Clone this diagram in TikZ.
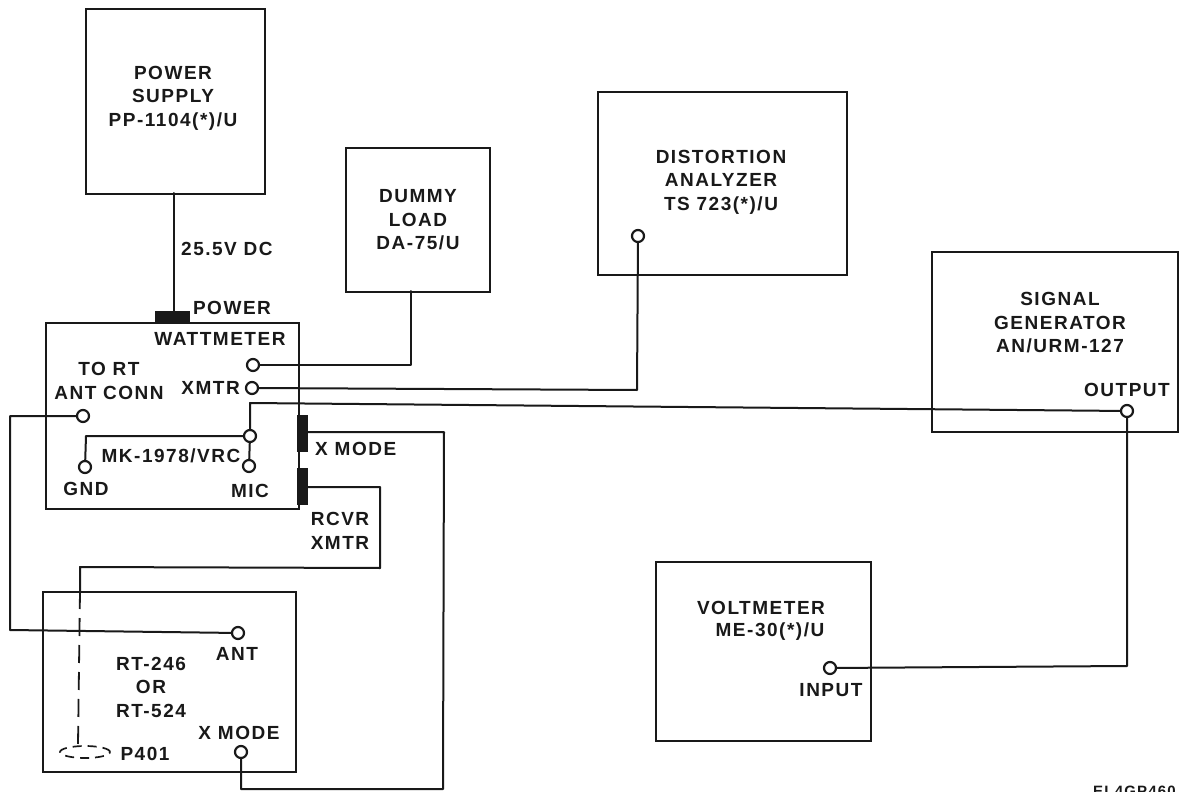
\documentclass[tikz,border=0pt]{standalone}
\usepackage{fontspec}
\usetikzlibrary{shapes.geometric}
\setmainfont[LetterSpace=8]{Liberation Sans}
\tikzset{
  x=1pt,y=-1pt,
  wire/.style={line width=2pt,line join=round,line cap=round,black!90},
  unit/.style={draw=black!90,line width=2.2pt,rectangle,inner sep=0pt,anchor=north west},
  term/.style={draw=black!90,line width=2.2pt,circle,inner sep=0pt,minimum size=12pt,fill=white},
  plug/.style={fill=black!90,draw=none,rectangle,inner sep=0pt,anchor=north west},
  lab/.style={font=\fontsize{19}{23.5}\selectfont\bfseries,align=center,inner sep=0pt,black!90},
  dashwire/.style={line width=1.8pt,dash pattern=on 18pt off 9pt,black!90}
}
\begin{document}
\begin{tikzpicture}
\useasboundingbox (0,0) rectangle (1179,792);
% units
\node[unit,minimum width=179pt,minimum height=185pt] (psu) at (85,8) {};
\node[unit,minimum width=144pt,minimum height=144pt] (dummy) at (345,147) {};
\node[unit,minimum width=249pt,minimum height=183pt] (dist) at (597,91) {};
\node[unit,minimum width=246pt,minimum height=180pt] (sig) at (931,251) {};
\node[unit,minimum width=215pt,minimum height=179pt] (volt) at (655,561) {};
\node[unit,minimum width=253pt,minimum height=186pt] (watt) at (45,322) {};
\node[unit,minimum width=253pt,minimum height=180pt] (rt) at (42,591) {};
% plugs
\node[plug,minimum width=35pt,minimum height=11pt] (pwr) at (155,311) {};
\node[plug,minimum width=11pt,minimum height=37pt] (xm) at (297,415) {};
\node[plug,minimum width=11pt,minimum height=37pt] (rx) at (297,468) {};
% terminals
\node[term] (t1) at (253,365) {};
\node[term] (txmtr) at (252,388) {};
\node[term] (tort) at (83,416) {};
\node[term] (tj) at (250,436) {};
\node[term] (tgnd) at (85,467) {};
\node[term] (tmic) at (249,466) {};
\node[term] (tdist) at (638,236) {};
\node[term] (tout) at (1127,411) {};
\node[term] (tin) at (830,668) {};
\node[term] (tant) at (238,633) {};
\node[term] (txrt) at (241,752) {};
% bend points
\coordinate (dummyin) at (411,291);
\coordinate (b1) at (250,403);
\coordinate (b3) at (1127,666);
\coordinate (b4) at (637,390);
\coordinate (b5) at (10,416);
\coordinate (b6) at (10,630);
\coordinate (b7) at (86,436);
\coordinate (b8) at (444,432);
\coordinate (b9) at (443,789);
\coordinate (b10) at (241,789);
\coordinate (b11) at (380,487);
\coordinate (b12) at (380,568);
\coordinate (b13) at (80,567);
\coordinate (b14) at (80,591);
\coordinate (b15) at (78,745);
\coordinate (psuout) at (174,193);
\coordinate (pwrin) at (174,311);
\coordinate (xmo) at (308,432);
\coordinate (rxo) at (308,487);
% connectors
\draw[wire] (psuout) -- (pwrin);
\draw[wire] (t1) -- (t1 -| dummyin) -- (dummyin);
\draw[wire] (txmtr) -- (b4) -- (tdist);
\draw[wire] (tj) -- (b1) -- (tout);
\draw[wire] (tout) -- (b3) -- (tin);
\draw[wire] (tort) -- (b5) -- (b6) -- (tant);
\draw[wire] (tj) -- (b7) -- (tgnd);
\draw[wire] (tj) -- (tmic);
\draw[wire] (xmo) -- (b8) -- (b9) -- (b10) -- (txrt);
\draw[wire] (rxo) -- (b11) -- (b12) -- (b13) -- (b14);
\draw[dashwire] (b14) -- (b15);
\node[draw=black!90,line width=1.7pt,ellipse,inner sep=0pt,minimum width=50pt,minimum height=12pt,dash pattern=on 9pt off 6pt] (p401) at (85,752) {};
% labels
\node[lab] (lpsu) at (173,98) {POWER\\SUPPLY\\PP-1104(*)/U};
\node[lab,anchor=west] (l255) at (181,249) {25.5V DC};
\node[lab] (ldummy) at (418,220) {DUMMY\\LOAD\\DA-75/U};
\node[lab] (ldist) at (721,182) {DISTORTION\\ANALYZER\\TS 723(*)/U};
\node[lab] (lsig) at (1060,323) {SIGNAL\\GENERATOR\\AN/URM-127};
\node[lab,anchor=east] (lout) at (1170,390) {OUTPUT};
\node[lab] (lvolt) at (761,608) {VOLTMETER};
\node[lab] (lme) at (770,632) {ME-30(*)/U};
\node[lab] (linp) at (831,690) {INPUT};
\node[lab] (lpower) at (232,308) {POWER};
\node[lab] (lwatt) at (220,339) {WATTMETER};
\node[lab,anchor=east] (lxmtr) at (240,388) {XMTR};
\node[lab] (ltort) at (109,381) {TO RT\\ANT CONN};
\node[lab] (lmk) at (171,456) {MK-1978/VRC};
\node[lab] (lgnd) at (86,489) {GND};
\node[lab] (lmic) at (250,491) {MIC};
\node[lab,anchor=west] (lxm) at (315,449) {X MODE};
\node[lab] (lrx) at (340,531) {RCVR\\XMTR};
\node[lab] (lant) at (237,654) {ANT};
\node[lab] (lrt) at (151,687) {RT-246\\OR\\RT-524};
\node[lab] (lxrt) at (239,733) {X MODE};
\node[lab] (lp401) at (145,754) {P401};
\node[lab,font=\fontsize{15}{18}\selectfont\bfseries,anchor=north east] (lref) at (1176,786) {EL4GP460};
\end{tikzpicture}
\end{document}
